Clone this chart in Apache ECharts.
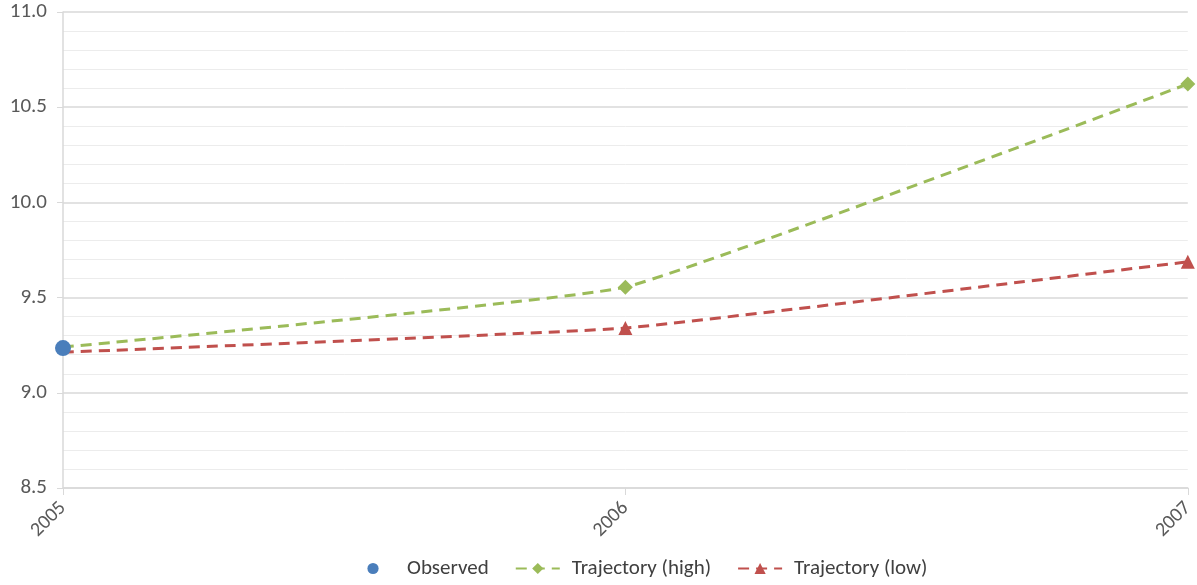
<!DOCTYPE html>
<html><head><meta charset="utf-8">
<script src="https://cdn.jsdelivr.net/npm/echarts@6/dist/echarts.min.js"></script>
<style>html,body{margin:0;padding:0;background:#fff}#c{width:1197px;height:585px}</style>
</head><body><div id="c"></div>
<script>
const years = ['2005', '2006', '2007'];
const observed = [9.235, null, null];
const trajHigh = [9.24, 9.555, 10.622];
const trajLow = [9.213, 9.34, 9.688];

const font = 'Carlito, "Open Sans", "Liberation Sans", sans-serif';
const firstNoSymbol = arr => arr.map((v, i) => i === 0 ? {value: v, symbol: 'none'} : v);
const chart = echarts.init(document.getElementById('c'));
chart.setOption({
  animation: false,
  grid: {left: 63, right: 6, top: 12, bottom: 97, containLabel: false},
  legend: {
    bottom: 1, left: 346, itemGap: 26, itemWidth: 44, itemHeight: 14,
    textStyle: {color: '#404040', fontSize: 21, fontFamily: font, padding: [0, 0, 0, 7]},
    data: ['Observed', 'Trajectory (high)', 'Trajectory (low)']
  },
  xAxis: {
    type: 'category', data: years, boundaryGap: false,
    axisLine: {lineStyle: {color: '#d9d9d9', width: 1.5}},
    axisTick: {show: true, alignWithLabel: true, length: 7, lineStyle: {color: '#d9d9d9'}},
    axisLabel: {rotate: 45, color: '#595959', fontSize: 20, fontFamily: font, margin: 17},
    splitLine: {show: false}
  },
  yAxis: {
    type: 'value', min: 8.5, max: 11.0, interval: 0.5,
    axisLine: {show: true, lineStyle: {color: '#d9d9d9', width: 1.5}},
    axisTick: {show: true, length: 6, lineStyle: {color: '#d9d9d9'}},
    axisLabel: {color: '#595959', fontSize: 21, fontFamily: font, margin: 16,
      formatter: v => v.toFixed(1)},
    splitLine: {lineStyle: {color: '#d9d9d9', width: 1.5}},
    minorTick: {show: false, splitNumber: 5},
    minorSplitLine: {show: true, lineStyle: {color: '#ececec', width: 1}}
  },
  series: [
    {name: 'Observed', type: 'line', data: observed, symbol: 'circle', symbolSize: 16,
      showSymbol: true, lineStyle: {width: 0},
      itemStyle: {color: '#4a7ebb'}, z: 5},
    {name: 'Trajectory (high)', type: 'line', data: firstNoSymbol(trajHigh), smooth: 0.1,
      symbol: 'diamond', symbolSize: 15, showSymbol: true,
      lineStyle: {color: '#9bbb59', width: 3, type: [11, 7]},
      itemStyle: {color: '#9bbb59'}},
    {name: 'Trajectory (low)', type: 'line', data: firstNoSymbol(trajLow), smooth: 0.1,
      symbol: 'triangle', symbolSize: 14, showSymbol: true,
      lineStyle: {color: '#c0504d', width: 3, type: [11, 7]},
      itemStyle: {color: '#c0504d'}}
  ]
});
</script></body></html>
